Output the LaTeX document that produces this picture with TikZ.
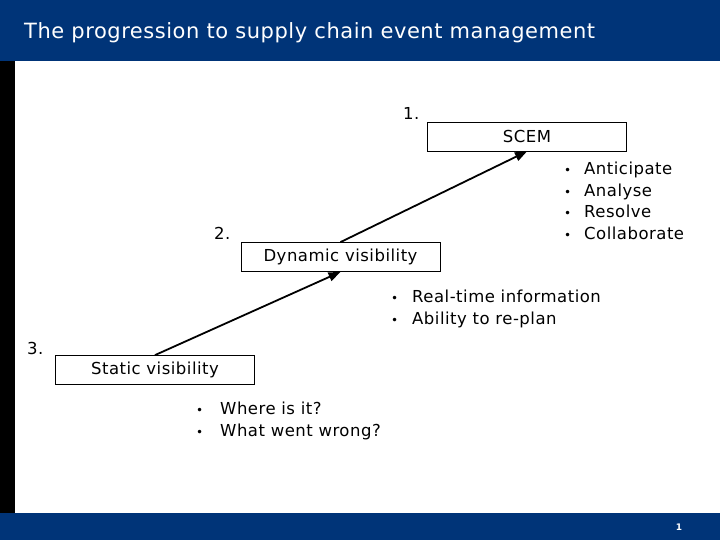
\documentclass[tikz,border=0pt]{standalone}
\usepackage{fontspec}
\setmainfont{DejaVu Sans}
\newfontfamily\bodyfont{DejaVu Sans}[LetterSpace=3]
\newfontfamily\titlefont{DejaVu Sans}[LetterSpace=2.5]
\usetikzlibrary{arrows.meta, positioning}
\usepackage{xcolor}
\definecolor{banner}{HTML}{003478}

\begin{document}
\begin{tikzpicture}[x=1pt, y=-1pt,
    every node/.style={font=\bodyfont\fontsize{16.5}{21.6}\selectfont},
    frame/.style={rectangle, draw, line width=0.8pt, minimum width=199pt,
                  minimum height=29pt, inner sep=0pt, align=center},
    num/.style={anchor=base west, inner sep=0pt},
    pts/.style={anchor=north west, inner sep=0pt, align=left},
    up/.style={-{Triangle[length=12pt, width=9pt]}, line width=1.8pt}
]
    \useasboundingbox (0,0) rectangle (720,540);
    \fill[white]  (0,0)   rectangle (720,540);
    \fill[banner] (0,0)   rectangle (720,61);
    \fill[black]  (0,61)  rectangle (15,513);
    \fill[banner] (0,513) rectangle (720,540);

    \node[anchor=base west, inner sep=0pt, text=white,
          font=\titlefont\fontsize{21}{25}\selectfont] (title) at (24,38.5)
        {The progression to supply chain event management};
    \node[text=white, font=\fontsize{9}{10}\selectfont\bfseries] (page) at (679,527) {1};

    \node[frame] (scem)    at (527,136.5) {SCEM};
    \node[frame] (dynvis)  at (340.5,257) {Dynamic visibility};
    \node[frame] (statvis) at (155,370)   {Static visibility};

    \node[num] (n1) at (403,120) {1.};
    \node[num] (n2) at (214,240) {2.};
    \node[num] (n3) at (27,354)  {3.};

    \node[pts] (scempts) at (564,162) {%
        \makebox[20pt][l]{\fontsize{12}{12}\selectfont\textbullet}Anticipate\\
        \makebox[20pt][l]{\fontsize{12}{12}\selectfont\textbullet}Analyse\\
        \makebox[20pt][l]{\fontsize{12}{12}\selectfont\textbullet}Resolve\\
        \makebox[20pt][l]{\fontsize{12}{12}\selectfont\textbullet}Collaborate};
    \node[pts] (dynpts) at (391,290) {%
        \makebox[21pt][l]{\fontsize{12}{12}\selectfont\textbullet}Real-time information\\
        \makebox[21pt][l]{\fontsize{12}{12}\selectfont\textbullet}Ability to re-plan};
    \node[pts] (statpts) at (196,402) {%
        \makebox[24pt][l]{\fontsize{12}{12}\selectfont\textbullet}Where is it?\\
        \makebox[24pt][l]{\fontsize{12}{12}\selectfont\textbullet}What went wrong?};

    \draw[up] (statvis.north) -- (dynvis.south);
    \draw[up] (dynvis.north) -- (scem.south);
\end{tikzpicture}
\end{document}
